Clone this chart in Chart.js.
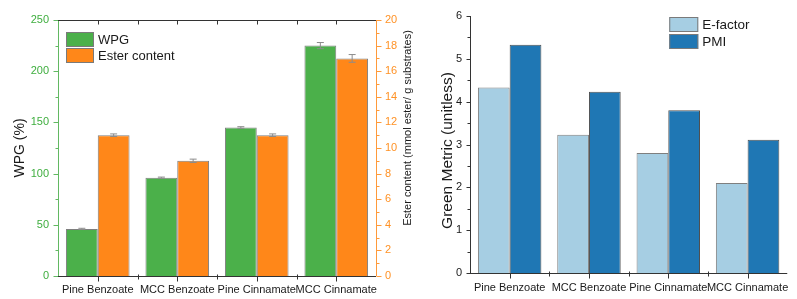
<!DOCTYPE html>
<html><head><meta charset="utf-8">
<script src="https://cdn.jsdelivr.net/npm/chart.js@4/dist/chart.umd.min.js"></script>
<style>
html,body{margin:0;padding:0;background:#fff;}
#w{position:relative;width:797px;height:299px;overflow:hidden;}
#c1{position:absolute;left:0;top:0;}
#c2{position:absolute;left:420px;top:0;}
</style></head><body>
<div id="w"><canvas id="c1" width="420" height="299"></canvas><canvas id="c2" width="377" height="299"></canvas></div>
<script>
const categories = ['Pine Benzoate', 'MCC Benzoate', 'Pine Cinnamate', 'MCC Cinnamate'];
const wpg = [46, 96, 145, 225];
const wpgErr = [0.6, 0.6, 0.8, 3];
const esterContent = [11, 9, 11, 17];
const esterErr = [0.1, 0.13, 0.1, 0.3];
const eFactor = [4.33, 3.23, 2.8, 2.1];
const pmi = [5.33, 4.23, 3.8, 3.11];
const wpgAxis = {min: 0, max: 250, step: 50};
const esterAxis = {min: 0, max: 20, step: 2};
const greenAxis = {min: 0, max: 6, step: 1};

const FONT = "Arial, 'Liberation Sans', sans-serif";
Chart.defaults.font.family = FONT;
Chart.defaults.animation = false;

// error bars
const errorBars = {
  id: 'errorBars',
  afterDatasetsDraw(chart) {
    const ctx = chart.ctx;
    ctx.save();
    chart.data.datasets.forEach((ds, di) => {
      if (!ds.errors) return;
      const meta = chart.getDatasetMeta(di);
      const s = chart.scales[meta.yAxisID];
      meta.data.forEach((el, i) => {
        const v = ds.data[i], e = ds.errors[i];
        const y1 = s.getPixelForValue(v + e), y2 = s.getPixelForValue(v - e);
        ctx.strokeStyle = '#8c8c8c'; ctx.lineWidth = 1;
        ctx.beginPath();
        ctx.moveTo(el.x, y1); ctx.lineTo(el.x, y2);
        ctx.moveTo(el.x - 3.5, y1); ctx.lineTo(el.x + 3.5, y1);
        ctx.moveTo(el.x - 3.5, y2); ctx.lineTo(el.x + 3.5, y2);
        ctx.stroke();
      });
    });
    ctx.restore();
  }
};

// axes lines, major/minor ticks, titles, legend
const decor = {
  id: 'decor',
  afterDraw(chart, args, o) {
    const ctx = chart.ctx, ca = chart.chartArea;
    ctx.save();
    ctx.lineWidth = 1;
    (o.yAxes || []).forEach(a => {
      const s = chart.scales[a.id];
      const x = Math.round(a.side === 'left' ? ca.left : ca.right) + 0.5;
      const dir = a.side === 'left' ? -1 : 1;
      ctx.strokeStyle = a.color;
      ctx.beginPath();
      ctx.moveTo(x, ca.top); ctx.lineTo(x, ca.bottom);
      const t = s.ticks;
      t.forEach((tk, i) => {
        const y = Math.round(s.getPixelForValue(tk.value)) + 0.5;
        ctx.moveTo(x, y); ctx.lineTo(x + dir * a.major, y);
        if (i < t.length - 1) {
          const ym = Math.round(s.getPixelForValue((tk.value + t[i + 1].value) / 2)) + 0.5;
          ctx.moveTo(x, ym); ctx.lineTo(x + dir * a.minor, ym);
        }
      });
      ctx.stroke();
    });
    (o.xAxes || []).forEach(a => {
      const s = chart.scales.x;
      const y = Math.round(a.side === 'bottom' ? ca.bottom : ca.top) + 0.5;
      const dir = a.dir;
      ctx.strokeStyle = a.color;
      ctx.beginPath();
      ctx.moveTo(ca.left, y); ctx.lineTo(ca.right + (a.extend || 0), y);
      const n = chart.data.labels.length;
      for (let i = 0; i < n; i++) {
        const x = Math.round(s.getPixelForValue(i)) + 0.5;
        ctx.moveTo(x, y); ctx.lineTo(x, y + dir * a.major);
        if (i < n - 1) {
          const xb = Math.round((s.getPixelForValue(i) + s.getPixelForValue(i + 1)) / 2) + 0.5;
          ctx.moveTo(xb, y - a.minorUp); ctx.lineTo(xb, y + dir * a.minor);
        }
      }
      ctx.stroke();
    });
    (o.titles || []).forEach(t => {
      ctx.save();
      const x = (t.anchor === 'left' ? ca.left : ca.right) + t.dx;
      const y = (ca.top + ca.bottom) / 2 + t.dy;
      ctx.translate(x, y);
      ctx.rotate(-Math.PI / 2);
      ctx.font = t.size + 'px ' + FONT;
      ctx.fillStyle = '#1a1a1a';
      ctx.textAlign = 'center'; ctx.textBaseline = 'middle';
      ctx.fillText(t.text, 0, 0);
      ctx.restore();
    });
    if (o.legend) {
      const L = o.legend;
      const x0 = (L.anchor === 'left' ? ca.left : ca.right) + L.dx;
      chart.data.datasets.forEach((ds, i) => {
        const y = ca.top + L.dy + i * L.row;
        ctx.fillStyle = ds.backgroundColor;
        ctx.fillRect(x0, y, L.w, L.h);
        ctx.strokeStyle = '#7a7a7a';
        ctx.strokeRect(x0 + 0.5, y + 0.5, L.w - 1, L.h - 1);
        ctx.fillStyle = '#1a1a1a';
        ctx.font = L.size + 'px ' + FONT;
        ctx.textAlign = 'left'; ctx.textBaseline = 'middle';
        ctx.fillText(ds.label, x0 + L.w + 4, y + L.h / 2 + 0.5);
      });
    }
    ctx.restore();
  }
};

const xScale = (h, pad) => ({
  type: 'category',
  offset: true,
  grid: {display: false, drawTicks: false},
  border: {display: false},
  ticks: {autoSkip: false, maxRotation: 0, minRotation: 0, padding: pad, color: '#1a1a1a', font: {size: 11}},
  afterFit: s => { s.height = h; }
});

new Chart(document.getElementById('c1'), {
  type: 'bar',
  data: {
    labels: categories,
    datasets: [
      {label: 'WPG', data: wpg, errors: wpgErr, yAxisID: 'y', backgroundColor: '#4bb04a', borderColor: '#7f7f7f', borderWidth: 1, categoryPercentage: 0.8, barPercentage: 1.0},
      {label: 'Ester content', data: esterContent, errors: esterErr, yAxisID: 'y2', backgroundColor: '#ff8719', borderColor: '#7f7f7f', borderWidth: 1, categoryPercentage: 0.8, barPercentage: 1.0}
    ]
  },
  options: {
    responsive: false, devicePixelRatio: 1, animation: false,
    layout: {padding: {left: 0, right: 0, top: 20, bottom: 0}},
    plugins: {
      legend: {display: false}, tooltip: {enabled: false},
      decor: {
        yAxes: [
          {id: 'y', side: 'left', color: '#62b862', major: 5, minor: 3},
          {id: 'y2', side: 'right', color: '#ff9a3a', major: 5, minor: 3}
        ],
        xAxes: [
          {side: 'bottom', color: '#333', dir: 1, major: 5, minor: 3, minorUp: 2},
          {side: 'top', color: '#333', dir: 1, major: 4, minor: 4, minorUp: 0}
        ],
        titles: [
          {text: 'WPG (%)', anchor: 'left', dx: -38, dy: 0, size: 14},
          {text: 'Ester content (mmol ester/ g substrates)', anchor: 'right', dx: 32, dy: -20, size: 11}
        ],
        legend: {anchor: 'left', dx: 8, dy: 12, w: 28, h: 15, row: 16, size: 13}
      }
    },
    scales: {
      x: xScale(23, 7),
      y: {
        type: 'linear', position: 'left', min: wpgAxis.min, max: wpgAxis.max,
        grid: {display: false, drawTicks: false}, border: {display: false},
        ticks: {stepSize: wpgAxis.step, padding: 9, color: '#3fae3f', font: {size: 11}},
        afterFit: s => { s.width = 58; }
      },
      y2: {
        type: 'linear', position: 'right', min: esterAxis.min, max: esterAxis.max,
        grid: {display: false, drawTicks: false}, border: {display: false},
        ticks: {stepSize: esterAxis.step, padding: 9, color: '#ff9226', font: {size: 11}},
        afterFit: s => { s.width = 44; }
      }
    }
  },
  plugins: [errorBars, decor]
});

new Chart(document.getElementById('c2'), {
  type: 'bar',
  data: {
    labels: categories,
    datasets: [
      {label: 'E-factor', data: eFactor, backgroundColor: '#a6cee3', borderColor: '#7f7f7f', borderWidth: 1, categoryPercentage: 0.8, barPercentage: 1.0},
      {label: 'PMI', data: pmi, backgroundColor: '#1f77b4', borderColor: '#505050', borderWidth: 1, categoryPercentage: 0.8, barPercentage: 1.0}
    ]
  },
  options: {
    responsive: false, devicePixelRatio: 1, animation: false,
    layout: {padding: {left: 0, right: 6, top: 16, bottom: 0}},
    plugins: {
      legend: {display: false}, tooltip: {enabled: false},
      decor: {
        yAxes: [{id: 'y', side: 'left', color: '#333', major: 4, minor: 3}],
        xAxes: [{side: 'bottom', color: '#333', dir: 1, major: 5, minor: 3, minorUp: 2}],
        titles: [{text: 'Green Metric (unitless)', anchor: 'left', dx: -22, dy: 6, size: 15.5}],
        legend: {anchor: 'right', dx: -118, dy: 1, w: 29, h: 15, row: 17, size: 13.5}
      }
    },
    scales: {
      x: xScale(26, 8),
      y: {
        type: 'linear', position: 'left', min: greenAxis.min, max: greenAxis.max,
        grid: {display: false, drawTicks: false}, border: {display: false},
        ticks: {stepSize: greenAxis.step, padding: 8, color: '#1a1a1a', font: {size: 11}},
        afterFit: s => { s.width = 50; }
      }
    }
  },
  plugins: [decor]
});
</script>
</body></html>
